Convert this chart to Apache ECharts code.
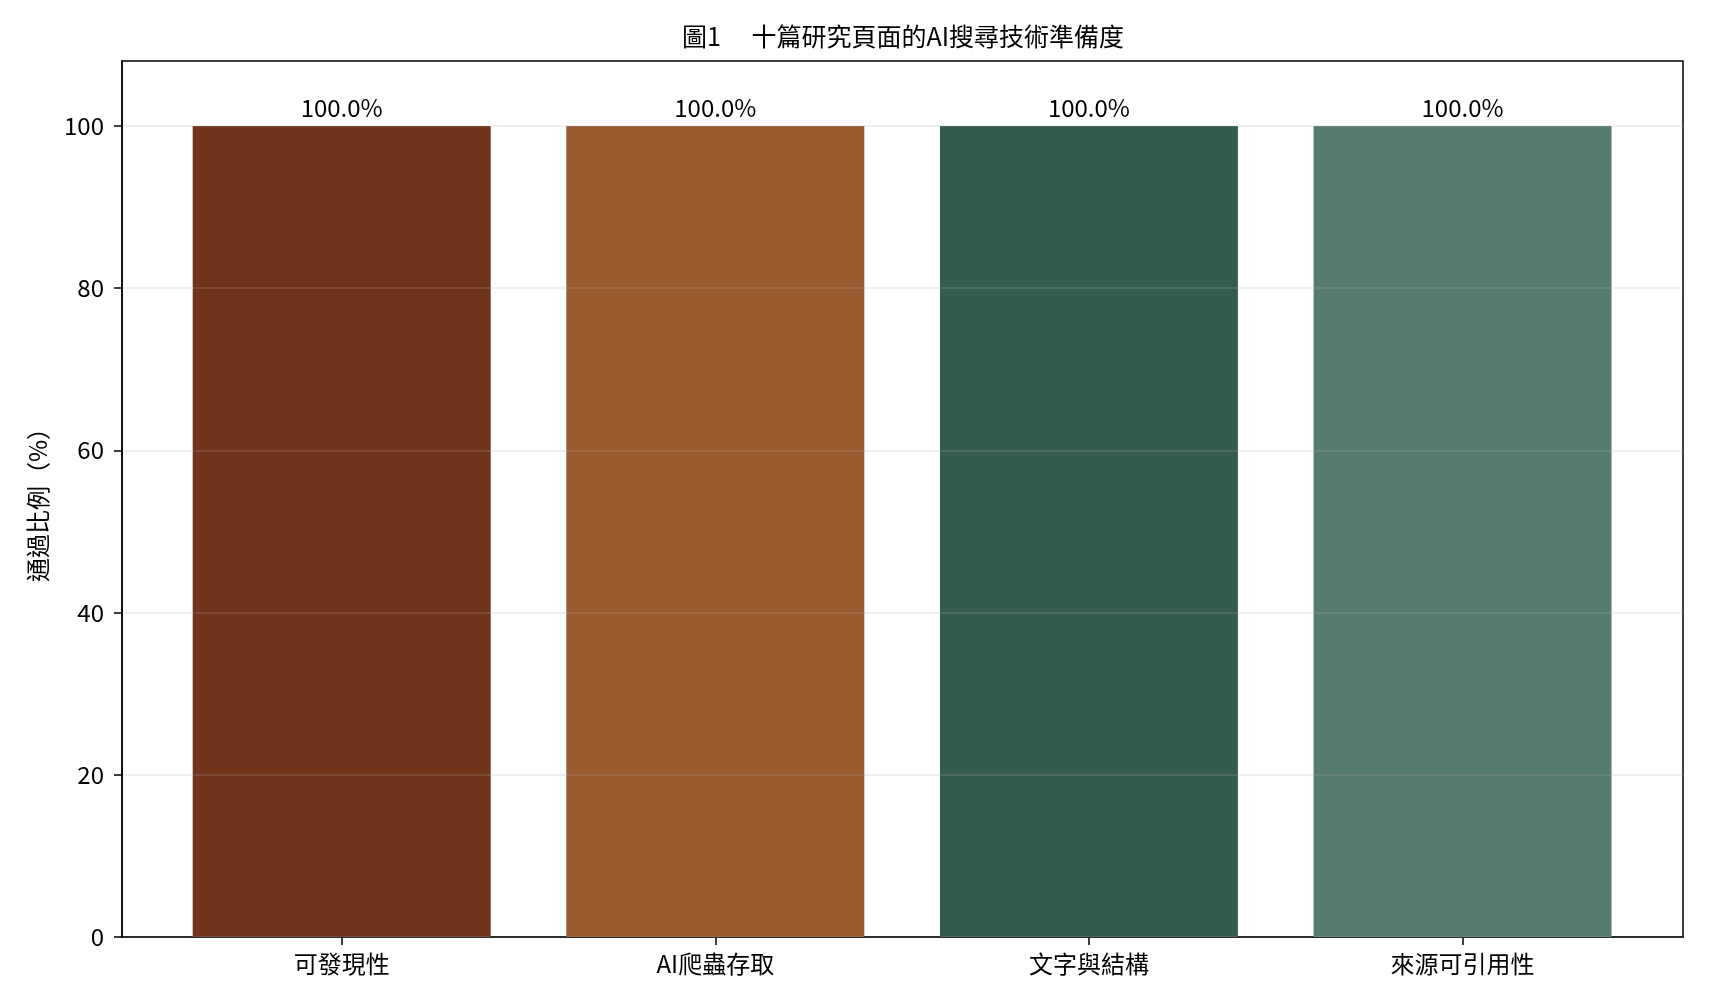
<!DOCTYPE html>
<html>
<head>
<meta charset="utf-8">
<script src="https://cdn.jsdelivr.net/npm/echarts@6/dist/echarts.min.js"></script>
<style>
  html, body { margin: 0; padding: 0; background: #fff; }
  #echarts { width: 1710px; height: 1007px; }
</style>
</head>
<body>
<div id="echarts"></div>
<script>
// 十篇研究頁面的AI搜尋技術準備度
const categories = ['可發現性', 'AI爬蟲存取', '文字與結構', '來源可引用性']
const passRates = [100, 100, 100, 100]
const barColors = ['#6f341a', '#9a5b2e', '#325d4c', '#557d6f']
const yTicks = [0, 20, 40, 60, 80, 100]
const xTicks = categories.map((c, i) => i)

const font = 'Noto Sans CJK TC'
const myChart = echarts.init(document.getElementById('echarts'))

myChart.setOption({
  animation: false,
  textStyle: { fontFamily: font },
  title: {
    text: '圖1　 十篇研究頁面的AI搜尋技術準備度',
    left: 898,
    top: 19,
    textAlign: 'center',
    textStyle: { fontFamily: font, fontSize: 25, fontWeight: 'normal', color: '#000' }
  },
  grid: {
    left: 122,
    right: 27,
    top: 61,
    bottom: 70,
    show: true,
    borderColor: '#000',
    borderWidth: 1.5,
    backgroundColor: 'transparent'
  },
  xAxis: {
    type: 'value',
    min: -0.588,
    max: 3.59,
    axisLine: { show: true, onZero: false, lineStyle: { color: '#000', width: 1.5 } },
    axisTick: { show: true, customValues: xTicks, length: 8, lineStyle: { color: '#000', width: 1.5 } },
    axisLabel: {
      customValues: xTicks,
      formatter: v => categories[Math.round(v)],
      fontFamily: font,
      fontSize: 24,
      color: '#000',
      margin: 15
    },
    splitLine: { show: false }
  },
  yAxis: {
    type: 'value',
    min: 0,
    max: 108,
    interval: 20,
    z: 3,
    name: '通過比例（%）',
    nameLocation: 'middle',
    nameGap: 72,
    nameTextStyle: { fontFamily: font, fontSize: 24, color: '#000' },
    axisLine: { show: true, onZero: false, lineStyle: { color: '#000', width: 1.5 } },
    axisTick: { show: true, customValues: yTicks, length: 8, lineStyle: { color: '#000', width: 1.5 } },
    axisLabel: {
      customValues: yTicks,
      fontFamily: font,
      fontSize: 24,
      color: '#000',
      margin: 18
    },
    splitLine: { show: true, lineStyle: { color: 'rgba(176,176,176,0.25)', width: 1.5 } }
  },
  series: [
    {
      type: 'bar',
      barWidth: 298,
      data: passRates.map((v, i) => ({
        value: [i, v],
        itemStyle: { color: barColors[i] }
      })),
      label: {
        show: true,
        position: 'top',
        distance: 6,
        formatter: p => p.value[1].toFixed(1) + '%',
        fontFamily: font,
        fontSize: 24,
        color: '#000'
      }
    }
  ]
})
</script>
</body>
</html>
